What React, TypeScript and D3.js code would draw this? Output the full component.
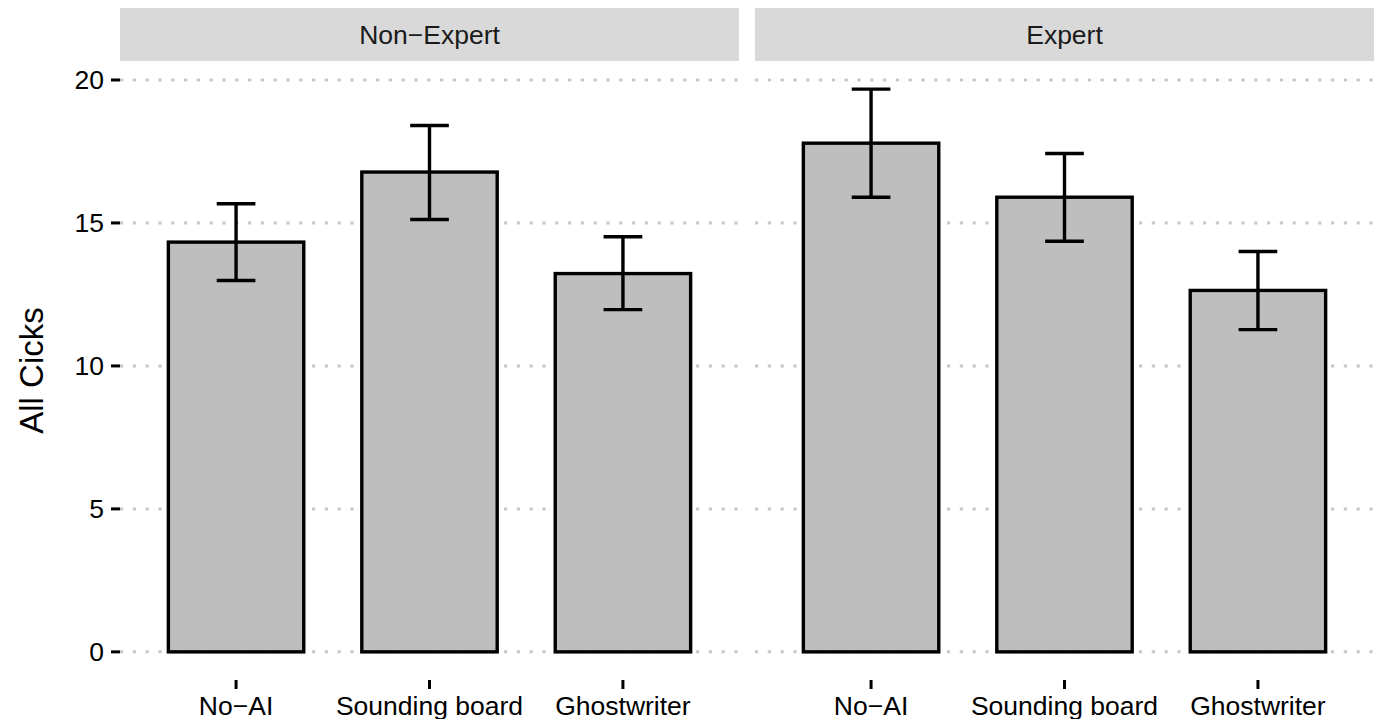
import React from "react";
import * as d3 from "d3";

const categories = ["No\u2212AI", "Sounding board", "Ghostwriter"];
const groups = ["Non\u2212Expert", "Expert"];
const nonExpertMean = [14.33, 16.78, 13.23];
const nonExpertLower = [12.99, 15.12, 11.97];
const nonExpertUpper = [15.67, 18.41, 14.52];
const expertMean = [17.79, 15.9, 12.64];
const expertLower = [15.9, 14.36, 11.27];
const expertUpper = [19.68, 17.43, 14.0];
const yTicks = [0, 5, 10, 15, 20];
const yTitle = "All Cicks";

const W = 1381;
const H = 719;
const FONT = "'Liberation Sans', Arial, Helvetica, sans-serif";

export default function App() {
  const panelTop = 61;
  const panelBottom = 680;
  const panels = [
    { x0: 120, x1: 739, name: groups[0], mean: nonExpertMean, lo: nonExpertLower, hi: nonExpertUpper },
    { x0: 755, x1: 1374, name: groups[1], mean: expertMean, lo: expertLower, hi: expertUpper },
  ];
  const allHi = d3.max([...nonExpertUpper, ...expertUpper]) as number;
  const lo = 0;
  const ex = (allHi - lo) * 0.05;
  const y = d3.scaleLinear().domain([lo - ex, allHi + ex]).range([panelBottom, panelTop]);
  const tc = "#000";
  const sw = 3.4;

  return (
    <svg width={W} height={H} style={{ position: "absolute", left: 0, top: 0, background: "#fff" }} fontFamily={FONT}>
      <text
        transform={`translate(43, ${(panelTop + panelBottom) / 2}) rotate(-90)`}
        textAnchor="middle"
        fontSize={33}
        fill="#000"
      >
        {yTitle}
      </text>
      {yTicks.map((t) => (
        <g key={t}>
          <line x1={111} x2={120} y1={y(t)} y2={y(t)} stroke={tc} strokeWidth={3} />
          <text x={104} y={y(t)} dy="0.35em" textAnchor="end" fontSize={26.5} fill="#000">
            {t}
          </text>
        </g>
      ))}
      {panels.map((p, pi) => {
        const x = d3.scalePoint<string>().domain(categories).range([p.x0, p.x1]).padding(0.6);
        const step = x.step();
        const bw = step * 0.7;
        const cap = step * 0.1;
        return (
          <g key={pi}>
            <rect x={p.x0} y={8} width={p.x1 - p.x0} height={53} fill="#d9d9d9" />
            <text x={(p.x0 + p.x1) / 2} y={44} textAnchor="middle" fontSize={26.5} fill="#1a1a1a">
              {p.name}
            </text>
            {yTicks.map((t) => (
              <line
                key={t}
                x1={p.x0}
                x2={p.x1}
                y1={y(t)}
                y2={y(t)}
                stroke="#c8c8c8"
                strokeWidth={3}
                strokeDasharray="3.2 9.6"
              />
            ))}
            {categories.map((c, i) => {
              const cx = x(c) as number;
              return (
                <g key={c}>
                  <rect
                    x={cx - bw / 2}
                    y={y(p.mean[i])}
                    width={bw}
                    height={y(0) - y(p.mean[i])}
                    fill="#bebebe"
                    stroke="#000"
                    strokeWidth={sw}
                  />
                  <line x1={cx} x2={cx} y1={y(p.lo[i])} y2={y(p.hi[i])} stroke="#000" strokeWidth={sw} />
                  <line x1={cx - cap} x2={cx + cap} y1={y(p.hi[i])} y2={y(p.hi[i])} stroke="#000" strokeWidth={sw} />
                  <line x1={cx - cap} x2={cx + cap} y1={y(p.lo[i])} y2={y(p.lo[i])} stroke="#000" strokeWidth={sw} />
                  <line x1={cx} x2={cx} y1={panelBottom} y2={panelBottom + 9} stroke={tc} strokeWidth={3} />
                  <text x={cx} y={715} textAnchor="middle" fontSize={26.5} fill="#000">
                    {c}
                  </text>
                </g>
              );
            })}
          </g>
        );
      })}
    </svg>
  );
}
